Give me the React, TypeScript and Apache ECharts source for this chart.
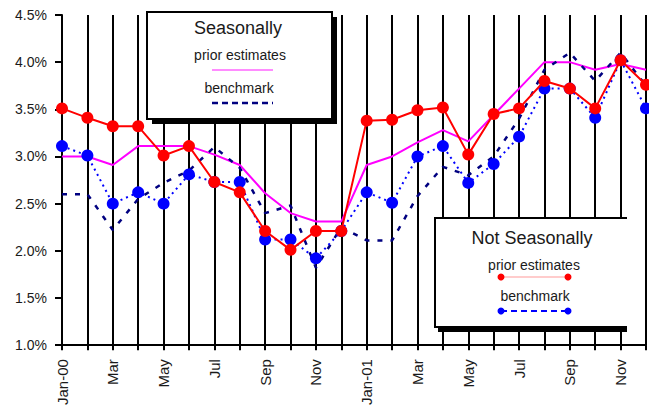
import React, { useEffect, useRef } from "react";
import * as echarts from "echarts";

const categories = [
  "Jan-00", "Feb-00", "Mar-00", "Apr-00", "May-00", "Jun-00", "Jul-00", "Aug-00", "Sep-00", "Oct-00", "Nov-00", "Dec-00",
  "Jan-01", "Feb-01", "Mar-01", "Apr-01", "May-01", "Jun-01", "Jul-01", "Aug-01", "Sep-01", "Oct-01", "Nov-01", "Dec-01",
];
const tickLabels = [
  "Jan-00", "", "Mar", "", "May", "", "Jul", "", "Sep", "", "Nov", "",
  "Jan-01", "", "Mar", "", "May", "", "Jul", "", "Sep", "", "Nov", "",
];
// Not seasonally adjusted, prior estimates (red, markers)
const nsaPrior = [3.51, 3.41, 3.32, 3.32, 3.01, 3.11, 2.73, 2.62, 2.21, 2.01, 2.21, 2.21,
  3.38, 3.39, 3.49, 3.52, 3.02, 3.45, 3.51, 3.8, 3.72, 3.51, 4.02, 3.76];
// Not seasonally adjusted, benchmark (blue, markers)
const nsaBench = [3.11, 3.01, 2.5, 2.62, 2.5, 2.81, 2.73, 2.73, 2.12, 2.12, 1.92, 2.21,
  2.62, 2.51, 3.0, 3.11, 2.72, 2.92, 3.21, 3.72, 3.72, 3.41, 4.02, 3.51];
// Seasonally adjusted, prior estimates (magenta)
const saPrior = [3.0, 3.0, 2.91, 3.11, 3.11, 3.11, 3.02, 2.91, 2.61, 2.4, 2.31, 2.31,
  2.91, 3.0, 3.15, 3.28, 3.16, 3.44, 3.72, 4.0, 4.0, 3.92, 3.98, 3.92];
// Seasonally adjusted, benchmark (navy dashed)
const saBench = [2.6, 2.6, 2.22, 2.55, 2.72, 2.85, 3.1, 2.88, 2.4, 2.48, 1.82, 2.25,
  2.11, 2.11, 2.58, 2.89, 2.8, 3.0, 3.4, 3.92, 4.1, 3.8, 4.1, 3.75];

const FONT = "Liberation Sans, Arial, sans-serif";

export default function App() {
  const ref = useRef<HTMLDivElement>(null);
  useEffect(() => {
    if (!ref.current) return;
    const chart = echarts.init(ref.current, null, { renderer: "svg" });
    const txt = (text: string, x: number, y: number, size: number) => ({
      type: "text",
      x,
      y,
      z: 102,
      style: { text, fontSize: size, fontFamily: FONT, fill: "#1a1a1a", align: "center", verticalAlign: "middle" },
    });
    chart.setOption({
      animation: false,
      backgroundColor: "#ffffff",
      grid: { left: 62, right: 3, top: 15, bottom: 62 },
      xAxis: {
        type: "category",
        boundaryGap: false,
        data: categories,
        axisLine: { show: true, lineStyle: { color: "#000", width: 2 } },
        axisTick: { show: true, interval: 0, length: 5, lineStyle: { color: "#000", width: 2 } },
        splitLine: { show: true, interval: 0, lineStyle: { color: "#000", width: 2 } },
        axisLabel: {
          interval: 0,
          rotate: 90,
          margin: 14,
          fontSize: 15,
          fontFamily: FONT,
          color: "#1a1a1a",
          formatter: (_v: string, i: number) => tickLabels[i],
        },
      },
      yAxis: {
        type: "value",
        min: 1,
        max: 4.5,
        interval: 0.5,
        axisLine: { show: true, lineStyle: { color: "#000", width: 2 } },
        axisTick: { show: true, length: 7, lineStyle: { color: "#000", width: 2 } },
        splitLine: { show: false },
        axisLabel: {
          margin: 15,
          fontSize: 14,
          fontFamily: FONT,
          color: "#1a1a1a",
          formatter: (v: number) => v.toFixed(1) + "%",
        },
      },
      series: [
        {
          name: "SA prior estimates",
          type: "line",
          data: saPrior,
          symbol: "none",
          lineStyle: { color: "#ff00ff", width: 2 },
          z: 2,
        },
        {
          name: "SA benchmark",
          type: "line",
          data: saBench,
          symbol: "none",
          lineStyle: { color: "#000080", width: 2.5, type: [5, 8] },
          z: 3,
        },
        {
          name: "NSA benchmark",
          type: "line",
          data: nsaBench,
          symbol: "circle",
          symbolSize: 12,
          itemStyle: { color: "#0000ff" },
          lineStyle: { color: "#0000ff", width: 2, type: [2, 4] },
          z: 4,
        },
        {
          name: "NSA prior estimates",
          type: "line",
          data: nsaPrior,
          symbol: "circle",
          symbolSize: 12,
          itemStyle: { color: "#ff0000" },
          lineStyle: { color: "#ff0000", width: 2 },
          z: 5,
        },
      ],
      graphic: [
        // Seasonally legend box
        { type: "rect", z: 100, shape: { x: 152, y: 17, width: 185, height: 107 }, style: { fill: "#000" } },
        { type: "rect", z: 101, shape: { x: 147, y: 12, width: 185, height: 107 }, style: { fill: "#fff", stroke: "#000", lineWidth: 2 } },
        txt("Seasonally", 238, 28, 18),
        txt("prior estimates", 240, 55, 14),
        { type: "line", z: 102, shape: { x1: 212, y1: 70, x2: 273, y2: 70 }, style: { stroke: "#ff66ff", lineWidth: 1.5 } },
        txt("benchmark", 239, 88, 14),
        { type: "line", z: 102, shape: { x1: 212, y1: 103, x2: 273, y2: 103 }, style: { stroke: "#000080", lineWidth: 2.5, lineDash: [6, 4] } },
        // Not Seasonally legend box (clipped on right)
        { type: "rect", z: 100, shape: { x: 438, y: 326, width: 189, height: 6 }, style: { fill: "#000" } },
        { type: "rect", z: 101, shape: { x: 435, y: 218, width: 192, height: 109 }, style: { fill: "#fff" } },
        { type: "polyline", z: 102, shape: { points: [[627, 218], [435, 218], [435, 327], [627, 327]] }, style: { stroke: "#000", lineWidth: 2, fill: null } },
        txt("Not Seasonally", 532, 238, 18),
        txt("prior estimates", 534, 265, 14),
        { type: "line", z: 102, shape: { x1: 501, y1: 277, x2: 568, y2: 277 }, style: { stroke: "#ff9999", lineWidth: 1 } },
        { type: "circle", z: 103, shape: { cx: 501, cy: 277, r: 3.5 }, style: { fill: "#ff0000" } },
        { type: "circle", z: 103, shape: { cx: 568, cy: 277, r: 3.5 }, style: { fill: "#ff0000" } },
        txt("benchmark", 535, 296, 14),
        { type: "line", z: 102, shape: { x1: 501, y1: 311, x2: 568, y2: 311 }, style: { stroke: "#0000ff", lineWidth: 2, lineDash: [6, 4] } },
        { type: "circle", z: 103, shape: { cx: 501, cy: 311, r: 3.5 }, style: { fill: "#0000ff" } },
        { type: "circle", z: 103, shape: { cx: 568, cy: 311, r: 3.5 }, style: { fill: "#0000ff" } },
      ],
    });
    return () => chart.dispose();
  }, []);
  return <div ref={ref} style={{ position: "fixed", left: 0, top: 0, width: 649, height: 408 }} />;
}
